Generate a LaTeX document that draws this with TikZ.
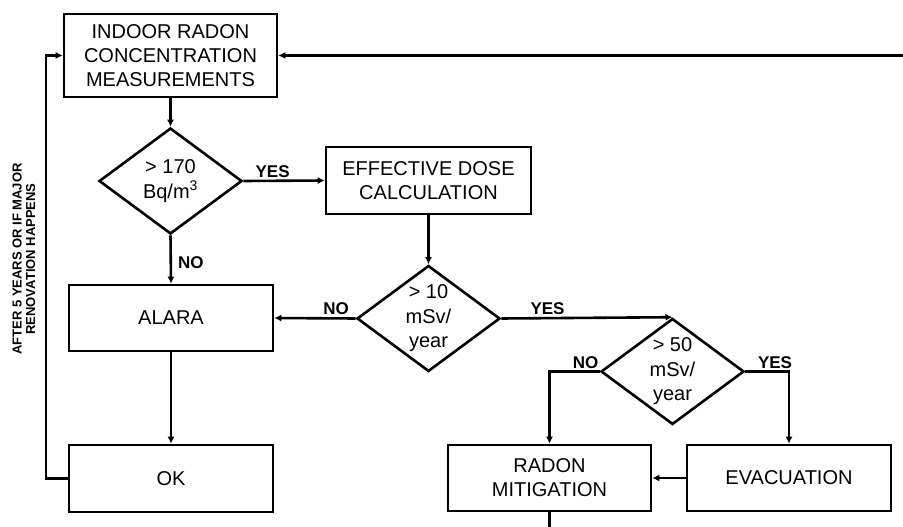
\documentclass[tikz,border=0pt]{standalone}
\usepackage{fontspec}
\setmainfont{Liberation Sans}
\usetikzlibrary{shapes.geometric,arrows.meta}
\begin{document}
\begin{tikzpicture}[x=1pt,y=-1pt,
  box/.style={draw, line width=2.6pt, inner sep=0pt, align=center,
    font=\fontsize{20}{24}\selectfont},
  dia/.style={draw, diamond, line width=2.6pt, inner sep=0pt,
    minimum width=143pt, minimum height=106pt},
  dtext/.style={align=center, font=\fontsize{20}{24.5}\selectfont},
  conn/.style={line width=2.6pt},
  arr/.style={conn, -{Latex[length=7pt,width=7pt]}},
  lab/.style={font=\bfseries\fontsize{17}{20}\selectfont, inner sep=2pt}
]
\useasboundingbox[fill=white] (0,0) rectangle (903,527);

\node[box, minimum width=213pt, minimum height=83pt] (m) at (170.5,55.5)
  {INDOOR RADON\\CONCENTRATION\\MEASUREMENTS};
\node[dia, label={[dtext]center:{> 170\\Bq/m\textsuperscript{3}}}] (d1) at (170.5,181) {};
\node[box, minimum width=205pt, minimum height=67pt] (e) at (428.5,180.5)
  {EFFECTIVE DOSE\\CALCULATION};
\node[dia, label={[dtext]center:{> 10\\mSv/\\year}}] (d2) at (428.5,318.5) {};
\node[box, minimum width=204pt, minimum height=66pt] (alara) at (171,318) {ALARA};
\node[box, minimum width=204pt, minimum height=67pt] (ok) at (171,478.5) {OK};
\node[dia, label={[dtext]center:{> 50\\mSv/\\year}}] (d3) at (672.5,371.5) {};
\node[box, minimum width=203pt, minimum height=66pt] (radon) at (549.5,478)
  {RADON\\MITIGATION};
\node[box, minimum width=204pt, minimum height=66pt] (evac) at (789,478) {EVACUATION};

\node[rotate=90, align=center, font=\bfseries\fontsize{13}{13.5}\selectfont] (note) at (24,259)
  {AFTER 5 YEARS OR IF MAJOR\\RENOVATION HAPPENS};

\coordinate (lp) at (46,478.5);
\coordinate (re) at (903,55.5);
\coordinate (be) at (549.5,527);

\draw[arr] (m.south) -- (d1.north);
\draw[arr] (d1.east) -- node[lab, pos=0.36, above] {YES} (e.west);
\draw[arr] (d1.south) -- node[lab, pos=0.56, right, xshift=4pt] {NO} (alara.north);
\draw[arr] (e.south) -- (d2.north);
\draw[arr] (d2.west) -- node[lab, pos=0.24, above] {NO} (alara.east);
\draw[arr] (d2.east) -- node[lab, pos=0.27, above] {YES} (d3.north);
\draw[arr] (d3.west) -| node[lab, pos=0.14, above] {NO} (radon.north);
\draw[arr] (d3.east) -| node[lab, pos=0.34, above] {YES} (evac.north);
\draw[arr] (evac.west) -- (radon.east);
\draw[arr] (alara.south) -- (ok.north);
\draw[arr] (ok.west) -- (lp) |- (m.west);
\draw[arr] (re) -- (m.east);
\draw[conn] (radon.south) -- (be);
\end{tikzpicture}
\end{document}
